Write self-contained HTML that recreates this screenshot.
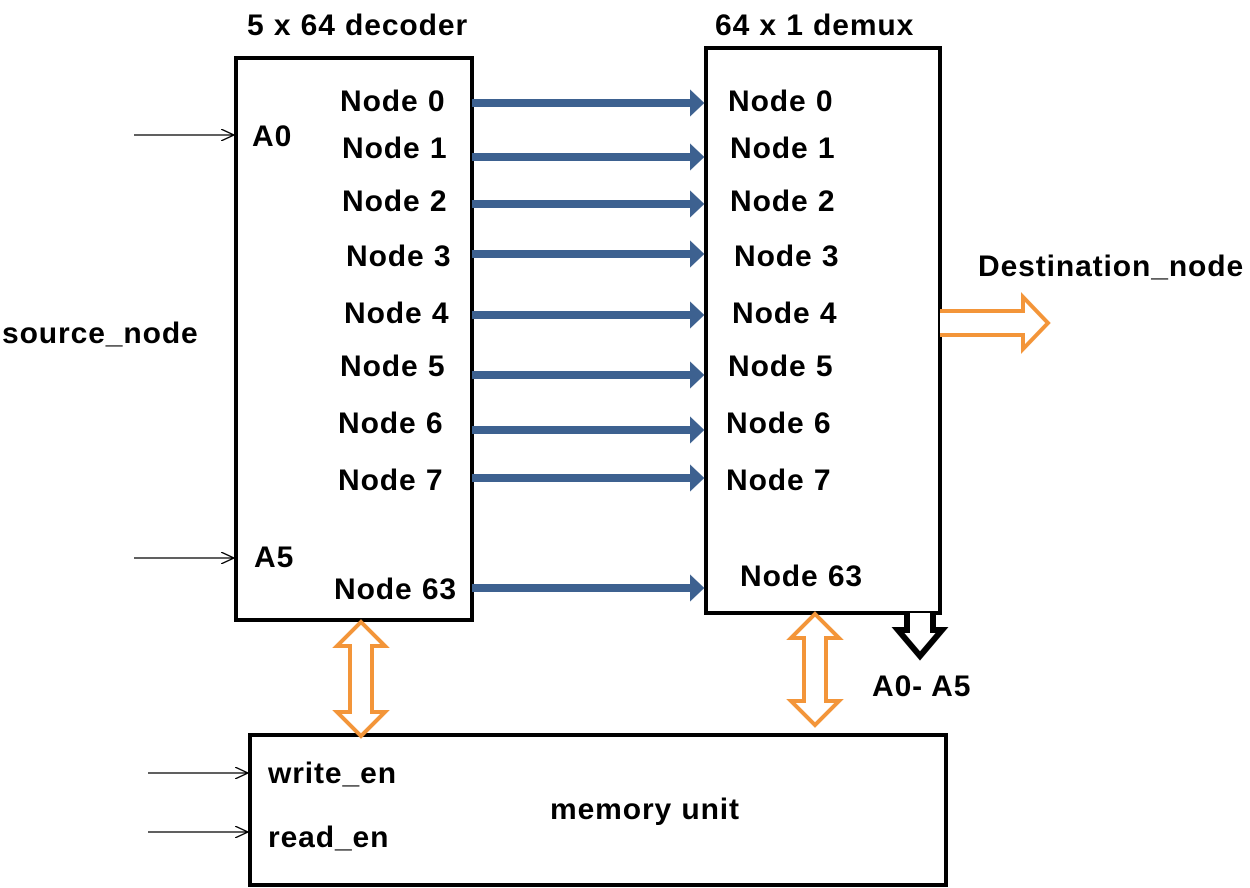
<!DOCTYPE html>
<html><head><style>body{margin:0;background:#fff}svg{display:block}text{font-family:"Liberation Sans",Arial,sans-serif;font-weight:bold;font-size:30px;letter-spacing:0.9px;fill:#000}</style></head>
<body>
<svg width="1250" height="888" viewBox="0 0 1250 888" xmlns="http://www.w3.org/2000/svg">
<defs>
<marker id="ah" markerWidth="4" markerHeight="4" refX="1" refY="2" orient="auto" markerUnits="strokeWidth"><path d="M0,0.3 L1.8,2 L0,3.7 Z" fill="#3d6190"/></marker>
<marker id="th" markerWidth="14" markerHeight="12" refX="13" refY="6" orient="auto" markerUnits="userSpaceOnUse"><path d="M0,0 L13,6 L0,12" fill="none" stroke="#000" stroke-width="1.3"/></marker>
</defs>
<rect x="236" y="58" width="236" height="562" fill="none" stroke="#000" stroke-width="4"/>
<rect x="706" y="48" width="234" height="565" fill="none" stroke="#000" stroke-width="4"/>
<rect x="250" y="735" width="696" height="150" fill="none" stroke="#000" stroke-width="4"/>
<text x="247" y="35">5 x 64  decoder</text>
<text x="715" y="35">64 x 1 demux</text>
<g stroke="#3d6190" stroke-width="8">
<line x1="472" y1="103" x2="698" y2="103" marker-end="url(#ah)"/>
<line x1="472" y1="157" x2="698" y2="157" marker-end="url(#ah)"/>
<line x1="472" y1="204" x2="698" y2="204" marker-end="url(#ah)"/>
<line x1="472" y1="254" x2="698" y2="254" marker-end="url(#ah)"/>
<line x1="472" y1="315" x2="698" y2="315" marker-end="url(#ah)"/>
<line x1="472" y1="375" x2="698" y2="375" marker-end="url(#ah)"/>
<line x1="472" y1="430" x2="698" y2="430" marker-end="url(#ah)"/>
<line x1="472" y1="478" x2="698" y2="478" marker-end="url(#ah)"/>
<line x1="472" y1="588" x2="698" y2="588" marker-end="url(#ah)"/>
</g>
<text x="340" y="111">Node 0</text>
<text x="342" y="158">Node 1</text>
<text x="342" y="211">Node 2</text>
<text x="346" y="266">Node 3</text>
<text x="344" y="323">Node 4</text>
<text x="340" y="376">Node 5</text>
<text x="338" y="433">Node 6</text>
<text x="338" y="490">Node 7</text>
<text x="334" y="599">Node 63</text>
<text x="728" y="111">Node 0</text>
<text x="730" y="158">Node 1</text>
<text x="730" y="211">Node 2</text>
<text x="734" y="266">Node 3</text>
<text x="732" y="323">Node 4</text>
<text x="728" y="376">Node 5</text>
<text x="726" y="433">Node 6</text>
<text x="726" y="490">Node 7</text>
<text x="740" y="586">Node 63</text>
<text x="252" y="146">A0</text>
<text x="254" y="567">A5</text>
<text x="2" y="343">source_node</text>
<text x="978" y="276">Destination_node</text>
<text x="872" y="696">A0- A5</text>
<text x="268" y="783">write_en</text>
<text x="268" y="847">read_en</text>
<text x="550" y="819">memory unit</text>
<g stroke="#000" stroke-width="1.3">
<line x1="134" y1="135" x2="234" y2="135" marker-end="url(#th)"/>
<line x1="134" y1="558" x2="234" y2="558" marker-end="url(#th)"/>
<line x1="148" y1="773" x2="248" y2="773" marker-end="url(#th)"/>
<line x1="148" y1="832" x2="248" y2="832" marker-end="url(#th)"/>
</g>
<path d="M940,311 L1023,311 L1023,297 L1048,323 L1023,349 L1023,335 L940,335" fill="#fff" stroke="#f39539" stroke-width="4"/>
<path d="M361,622 L385,646 L372,646 L372,712 L385,712 L361,736 L337,712 L350,712 L350,646 L337,646 Z" fill="#fff" stroke="#f39539" stroke-width="4"/>
<path d="M815,614 L839,638 L826,638 L826,701 L839,701 L815,725 L791,701 L804,701 L804,638 L791,638 Z" fill="#fff" stroke="#f39539" stroke-width="4"/>
<path d="M907,613 L907,630 L898,630 L920,656 L942,630 L933,630 L933,613" fill="#fff" stroke="#000" stroke-width="6"/>
</svg>
</body></html>
